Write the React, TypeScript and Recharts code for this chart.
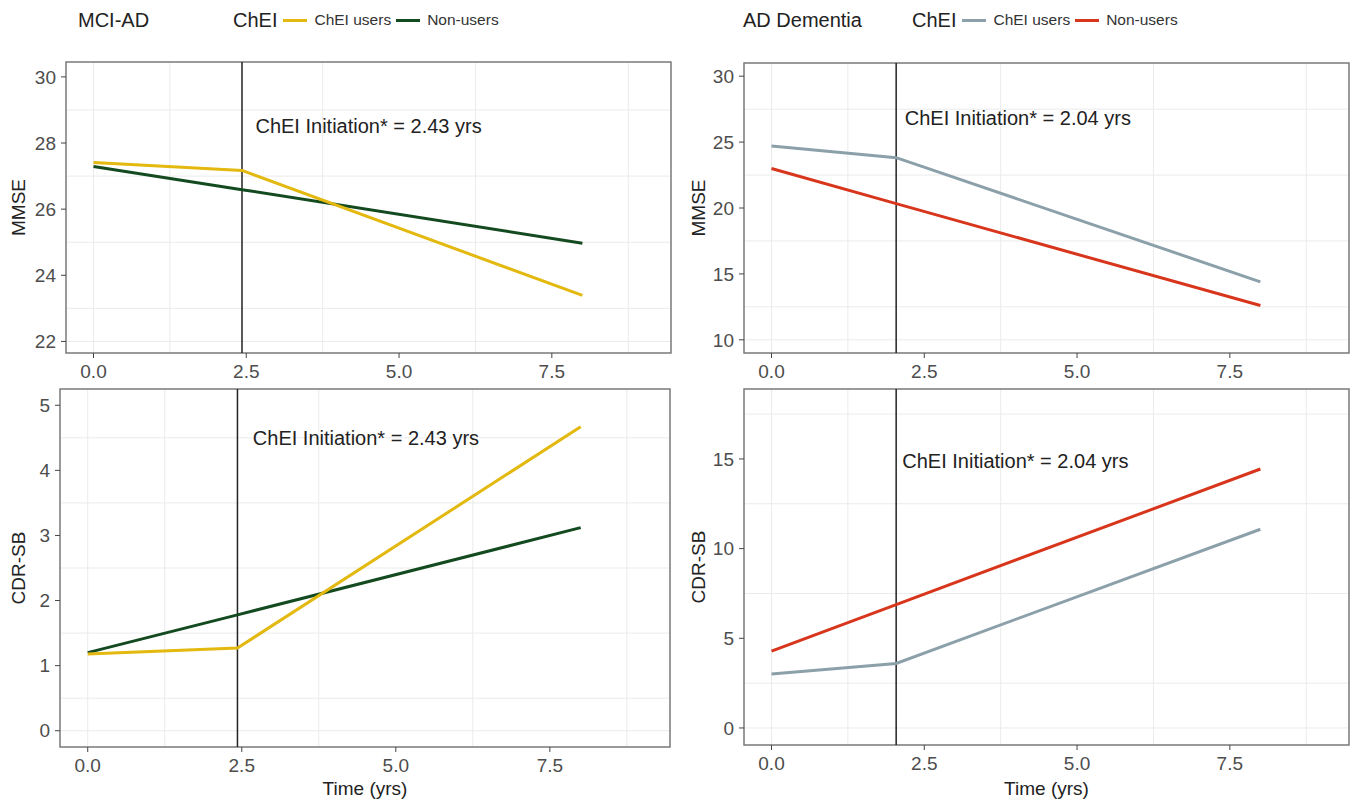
import React from "react"
import {
  LineChart,
  Line,
  XAxis,
  YAxis,
  CartesianGrid,
  ReferenceLine,
  ReferenceArea,
  ReferenceDot,
} from "recharts"

// time points (years): baseline, ChEI initiation, end of follow-up
const timeMci = [0, 2.43, 8]
const timeAd = [0, 2.04, 8]

// MCI-AD
const mciMmseUsers = [27.41, 27.17, 23.39]
const mciMmseNonUsers = [27.29, 26.59, 24.97]
const mciCdrUsers = [1.18, 1.27, 4.67]
const mciCdrNonUsers = [1.2, 1.78, 3.12]

// AD dementia
const adMmseUsers = [24.7, 23.82, 14.4]
const adMmseNonUsers = [23.0, 20.33, 12.6]
const adCdrUsers = [3.01, 3.6, 11.08]
const adCdrNonUsers = [4.28, 6.88, 14.44]

const seriesNames = ["ChEI users", "Non-users"]
const xTicks = [0, 2.5, 5, 7.5]
const xMinor = [1.25, 3.75, 6.25, 8.75]
const xDomain = [-0.45, 9.45]

const FONT = '"Liberation Sans", Arial, Helvetica, sans-serif'

const toRows = (time: number[], users: number[], nonUsers: number[]) =>
  time.map((t, i) => ({ time: t, users: users[i], nonUsers: nonUsers[i] }))

function YTitle(props: any) {
  const vb = props.viewBox || { x: 0, y: 0, width: 0, height: 0 }
  const cx = vb.x + 18
  const cy = vb.y + vb.height / 2
  return (
    <text
      x={cx}
      y={cy}
      transform={`rotate(-90 ${cx} ${cy})`}
      textAnchor="middle"
      dominantBaseline="central"
      fontSize={19}
      fill="#222"
      fontFamily={FONT}
    >
      {props.text}
    </text>
  )
}

type PanelProps = {
  left: number
  top: number
  width: number
  height: number
  yAxisWidth: number
  xAxisHeight: number
  rows: { time: number; users: number; nonUsers: number }[]
  yDomain: number[]
  yTicks: number[]
  yMinor: number[]
  yTitle: string
  xTitle?: string
  initiation: number
  note: { x: number; y: number }
  colors: string[]
}

function Panel(p: PanelProps) {
  const label = `ChEI Initiation* = ${p.initiation.toFixed(2)} yrs`
  return (
    <div style={{ position: "absolute", left: p.left, top: p.top }}>
      <LineChart
        width={p.width}
        height={p.height}
        data={p.rows}
        margin={{ top: 2, right: 2, left: 0, bottom: 0 }}
      >
        <CartesianGrid
          stroke="#ebebeb"
          strokeWidth={1}
          horizontalValues={[...p.yTicks, ...p.yMinor]}
          verticalValues={[...xTicks, ...xMinor]}
        />
        <XAxis
          type="number"
          dataKey="time"
          domain={xDomain}
          allowDataOverflow
          ticks={xTicks}
          tickFormatter={(v) => Number(v).toFixed(1)}
          axisLine={false}
          tickLine={{ stroke: "#444" }}
          tickSize={5}
          tickMargin={7}
          height={p.xAxisHeight}
          tick={{ fill: "#4d4d4d", fontSize: 19, fontFamily: FONT }}
          label={
            p.xTitle
              ? {
                  value: p.xTitle,
                  position: "insideBottom",
                  offset: 7,
                  fill: "#222",
                  fontSize: 19,
                  fontFamily: FONT,
                }
              : undefined
          }
        />
        <YAxis
          type="number"
          domain={p.yDomain}
          allowDataOverflow
          ticks={p.yTicks}
          axisLine={false}
          tickLine={{ stroke: "#444" }}
          tickSize={5}
          tickMargin={5}
          width={p.yAxisWidth}
          tick={{ fill: "#4d4d4d", fontSize: 19, fontFamily: FONT }}
          label={<YTitle text={p.yTitle} />}
        />
        <ReferenceArea
          x1={xDomain[0]}
          x2={xDomain[1]}
          y1={p.yDomain[0]}
          y2={p.yDomain[1]}
          fill="none"
          stroke="#7a7a7a"
          strokeWidth={1.5}
          ifOverflow="visible"
        />
        <ReferenceLine x={p.initiation} stroke="#222" strokeWidth={1.5} />
        <ReferenceDot
          x={p.note.x}
          y={p.note.y}
          r={0}
          shape={(s: any) => (
            <text
              x={s.cx}
              y={s.cy}
              dominantBaseline="central"
              fontSize={20}
              fill="#222"
              fontFamily={FONT}
            >
              {label}
            </text>
          )}
        />
        <Line
          type="linear"
          dataKey="nonUsers"
          name={seriesNames[1]}
          stroke={p.colors[1]}
          strokeWidth={3}
          dot={false}
          isAnimationActive={false}
        />
        <Line
          type="linear"
          dataKey="users"
          name={seriesNames[0]}
          stroke={p.colors[0]}
          strokeWidth={3}
          dot={false}
          isAnimationActive={false}
        />
      </LineChart>
    </div>
  )
}

function Header({ title, titleLeft, keyLeft, colors }: { title: string; titleLeft: number; keyLeft: number; colors: string[] }) {
  const row: React.CSSProperties = {
    position: "absolute",
    top: 8,
    height: 24,
    display: "flex",
    alignItems: "center",
    fontFamily: FONT,
    color: "#222",
    whiteSpace: "nowrap",
  }
  return (
    <>
      <div style={{ ...row, left: titleLeft, fontSize: 20 }}>{title}</div>
      <div style={{ ...row, left: keyLeft }}>
        <span style={{ fontSize: 20 }}>ChEI</span>
        {seriesNames.map((name, i) => (
          <React.Fragment key={name}>
            <span
              style={{
                display: "inline-block",
                width: 24,
                height: 3,
                background: colors[i],
                marginLeft: i === 0 ? 6 : 5,
              }}
            />
            <span style={{ fontSize: 15.5, marginLeft: 7, color: "#333" }}>{name}</span>
          </React.Fragment>
        ))}
      </div>
    </>
  )
}

const mciColors = ["#e3b80f", "#134a1f"]
const adColors = ["#8ca0aa", "#d8361c"]

export default function App() {
  return (
    <div
      style={{
        position: "absolute",
        left: 0,
        top: 0,
        width: 1356,
        height: 802,
        background: "#fff",
        overflow: "hidden",
      }}
    >
      <Header title="MCI-AD" titleLeft={78} keyLeft={233} colors={mciColors} />
      <Header title="AD Dementia" titleLeft={743} keyLeft={912} colors={adColors} />

      <Panel
        left={0}
        top={60}
        width={673}
        height={329}
        yAxisWidth={66}
        xAxisHeight={36}
        rows={toRows(timeMci, mciMmseUsers, mciMmseNonUsers)}
        yDomain={[21.65, 30.45]}
        yTicks={[22, 24, 26, 28, 30]}
        yMinor={[23, 25, 27, 29]}
        yTitle="MMSE"
        initiation={2.43}
        note={{ x: 2.65, y: 28.52 }}
        colors={mciColors}
      />
      <Panel
        left={680}
        top={61}
        width={671}
        height={328}
        yAxisWidth={64}
        xAxisHeight={36}
        rows={toRows(timeAd, adMmseUsers, adMmseNonUsers)}
        yDomain={[9, 31]}
        yTicks={[10, 15, 20, 25, 30]}
        yMinor={[12.5, 17.5, 22.5, 27.5]}
        yTitle="MMSE"
        initiation={2.04}
        note={{ x: 2.18, y: 26.84 }}
        colors={adColors}
      />
      <Panel
        left={0}
        top={387}
        width={672}
        height={415}
        yAxisWidth={60}
        xAxisHeight={55}
        rows={toRows(timeMci, mciCdrUsers, mciCdrNonUsers)}
        yDomain={[-0.25, 5.25]}
        yTicks={[0, 1, 2, 3, 4, 5]}
        yMinor={[0.5, 1.5, 2.5, 3.5, 4.5]}
        yTitle="CDR-SB"
        xTitle="Time (yrs)"
        initiation={2.43}
        note={{ x: 2.68, y: 4.49 }}
        colors={mciColors}
      />
      <Panel
        left={680}
        top={387}
        width={671}
        height={415}
        yAxisWidth={64}
        xAxisHeight={57}
        rows={toRows(timeAd, adCdrUsers, adCdrNonUsers)}
        yDomain={[-0.95, 18.9]}
        yTicks={[0, 5, 10, 15]}
        yMinor={[2.5, 7.5, 12.5, 17.5]}
        yTitle="CDR-SB"
        xTitle="Time (yrs)"
        initiation={2.04}
        note={{ x: 2.14, y: 14.9 }}
        colors={adColors}
      />
    </div>
  )
}
